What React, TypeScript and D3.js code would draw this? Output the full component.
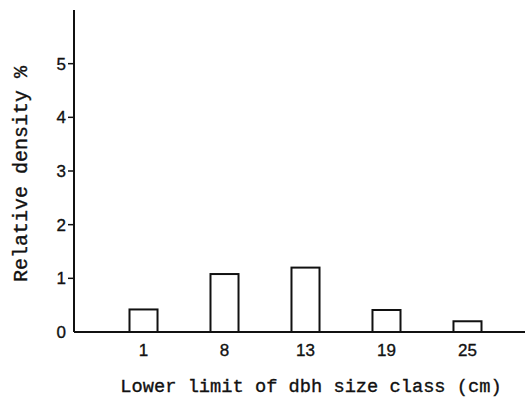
import * as d3 from "d3";

const categories = ["1", "8", "13", "19", "25"];
const values = [0.42, 1.08, 1.2, 0.41, 0.2];
const yTicks = [0, 1, 2, 3, 4, 5];

const W = 525;
const H = 398;

export default function App() {
  const x = d3
    .scaleBand<string>()
    .domain(categories)
    .range([89, 522])
    .paddingInner(0.654)
    .paddingOuter(0.5);

  const y = d3.scaleLinear().domain([0, 6]).range([332, 10]);

  const x0 = 74;
  const mono = "'Liberation Mono', 'Courier New', monospace";
  const sans = "'Liberation Sans', Arial, sans-serif";
  // printed text is a little heavier than the screen fonts
  const ink = { fill: "#111", stroke: "#111", strokeWidth: 0.35 };

  return (
    <svg
      width={W}
      height={H}
      style={{ position: "absolute", left: 0, top: 0, background: "#fff" }}
    >
      {/* bars */}
      {categories.map((c, i) => (
        <rect
          key={c}
          x={x(c)}
          y={y(values[i])}
          width={x.bandwidth()}
          height={y(0) - y(values[i])}
          fill="#fff"
          stroke="#111"
          strokeWidth={2}
        />
      ))}

      {/* axes */}
      <line x1={x0} x2={x0} y1={y(6)} y2={y(0)} stroke="#111" strokeWidth={2} />
      <line x1={x0} x2={W} y1={y(0)} y2={y(0)} stroke="#111" strokeWidth={2} />

      {yTicks.map((t) => (
        <g key={t}>
          {t > 0 && (
            <line x1={x0 - 6} x2={x0} y1={y(t)} y2={y(t)} stroke="#111" strokeWidth={1.5} />
          )}
          <text
            x={66}
            y={y(t)}
            dy="0.36em"
            textAnchor="end"
            fontFamily={sans}
            fontSize={17}
            {...ink}
          >
            {t}
          </text>
        </g>
      ))}

      {categories.map((c) => (
        <text
          key={c}
          x={(x(c) ?? 0) + x.bandwidth() / 2}
          y={356}
          textAnchor="middle"
          fontFamily={sans}
          fontSize={17}
          {...ink}
        >
          {c}
        </text>
      ))}

      <text
        x={311}
        y={392}
        textAnchor="middle"
        fontFamily={mono}
        fontSize={18.7}
        {...ink}
      >
        Lower limit of dbh size class (cm)
      </text>

      <text
        transform="translate(27,174) rotate(-90)"
        textAnchor="middle"
        fontFamily={mono}
        fontSize={20}
        {...ink}
      >
        Relative density %
      </text>
    </svg>
  );
}
